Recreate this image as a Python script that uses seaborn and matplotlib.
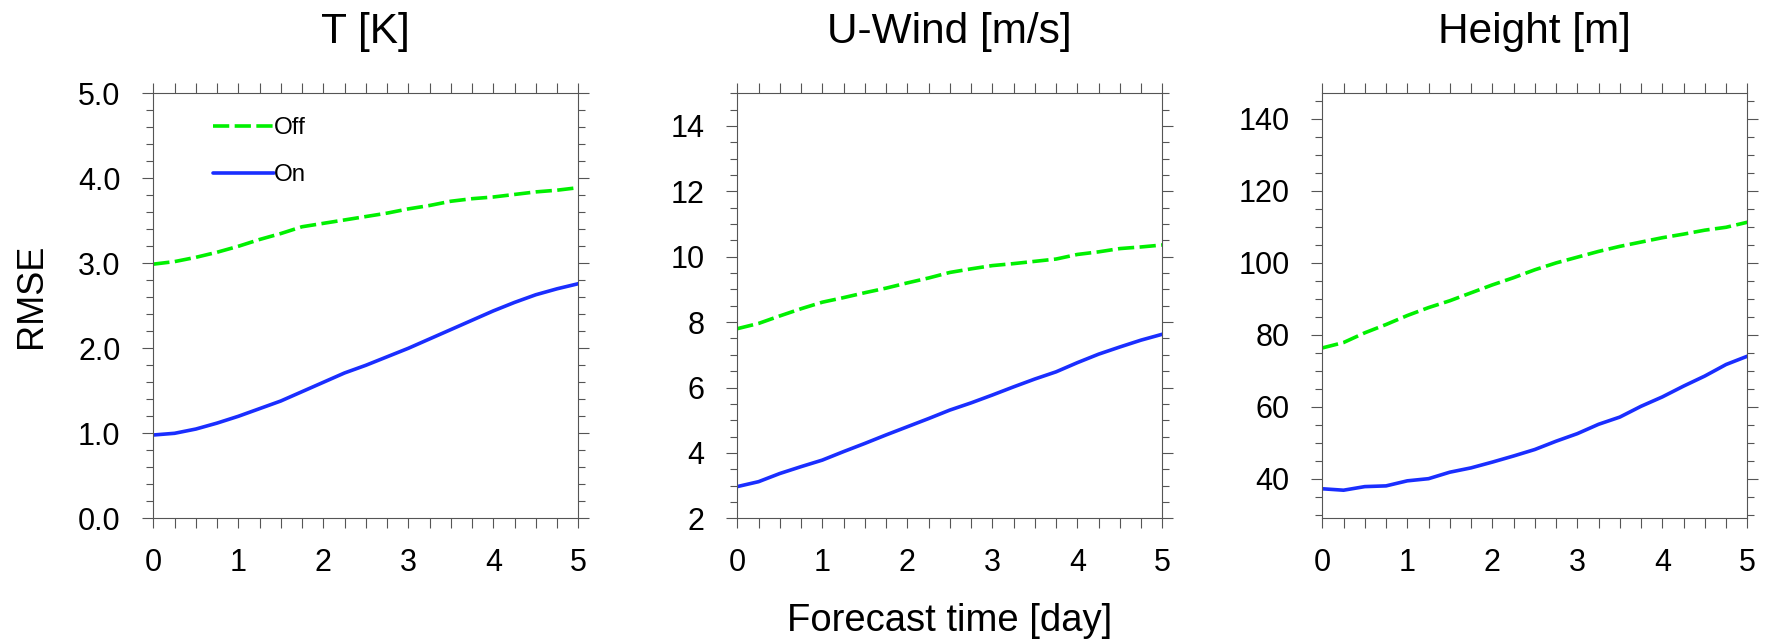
#RMSE of forecasts with and without the scheme
import numpy as np
import pandas as pd
import matplotlib
matplotlib.use('Agg')
import matplotlib.pyplot as plt
from matplotlib.ticker import MultipleLocator, FormatStrFormatter
import seaborn as sns

sns.set_style('ticks')
plt.rcParams['font.family'] = ['Liberation Sans', 'DejaVu Sans']
plt.rcParams['text.color'] = 'black'

# forecast lead time, every 6 hours
days = [0, 0.25, 0.5, 0.75, 1, 1.25, 1.5, 1.75, 2, 2.25, 2.5, 2.75,
        3, 3.25, 3.5, 3.75, 4, 4.25, 4.5, 4.75, 5]

t_off = [2.99, 3.02, 3.07, 3.13, 3.20, 3.28, 3.35, 3.43, 3.47, 3.51, 3.55,
         3.59, 3.64, 3.68, 3.73, 3.76, 3.78, 3.81, 3.84, 3.86, 3.89]
t_on = [0.98, 1.00, 1.05, 1.12, 1.20, 1.29, 1.38, 1.49, 1.60, 1.71, 1.80,
        1.90, 2.00, 2.11, 2.22, 2.33, 2.44, 2.54, 2.63, 2.70, 2.76]

u_off = [7.80, 7.96, 8.19, 8.41, 8.61, 8.75, 8.90, 9.04, 9.20, 9.35, 9.52,
         9.63, 9.73, 9.79, 9.86, 9.93, 10.07, 10.15, 10.25, 10.30, 10.36]
u_on = [2.97, 3.12, 3.37, 3.58, 3.78, 4.04, 4.29, 4.55, 4.80, 5.05, 5.31,
        5.53, 5.77, 6.02, 6.26, 6.48, 6.76, 7.02, 7.24, 7.45, 7.63]

z_off = [76.3, 77.8, 80.5, 82.8, 85.3, 87.5, 89.4, 91.6, 93.8, 95.8, 98.0,
         99.9, 101.5, 103.1, 104.5, 105.7, 106.9, 107.9, 109.0, 109.8, 111.2]
z_on = [37.2, 36.8, 37.8, 38.0, 39.4, 40.0, 41.8, 43.0, 44.6, 46.3, 48.1,
        50.4, 52.5, 55.1, 57.1, 60.1, 62.7, 65.7, 68.5, 71.7, 74.0]

titles = ['T [K]', 'U-Wind [m/s]', 'Height [m]']

frames = []
for title, off, on in zip(titles, [t_off, u_off, z_off], [t_on, u_on, z_on]):
    frames.append(pd.DataFrame({'day': days, 'rmse': off, 'exp': 'Off', 'var': title}))
    frames.append(pd.DataFrame({'day': days, 'rmse': on, 'exp': 'On', 'var': title}))
df = pd.concat(frames, ignore_index=True)

ylims = [(0, 5), (2, 15), (29, 147)]
ymajor = [1, 2, 20]
yminor = [0.2, 0.5, 5]
yfmt = ['%.1f', '%d', '%d']
lefts = [153.3, 737.3, 1322.3]

W, H = 1766, 640
fig = plt.figure(figsize=(W / 100, H / 100), dpi=100)
gray = '#555555'

for i, title in enumerate(titles):
    ax = fig.add_axes([lefts[i] / W, (H - 518.3) / H, 425 / W, 425 / H])
    sns.lineplot(data=df[df['var'] == title], x='day', y='rmse', hue='exp',
                 style='exp', hue_order=['Off', 'On'], style_order=['Off', 'On'],
                 palette={'Off': '#00f000', 'On': '#1a2eff'},
                 dashes={'Off': (4.5, 1.5), 'On': ''}, linewidth=2.6, ax=ax)
    ax.set_xlim(0, 5)
    ax.set_ylim(*ylims[i])
    ax.xaxis.set_major_locator(MultipleLocator(1))
    ax.xaxis.set_minor_locator(MultipleLocator(0.25))
    ax.yaxis.set_major_locator(MultipleLocator(ymajor[i]))
    ax.yaxis.set_minor_locator(MultipleLocator(yminor[i]))
    ax.yaxis.set_major_formatter(FormatStrFormatter(yfmt[i]))
    ax.tick_params(axis='both', which='both', direction='out', top=True, right=True,
                   color=gray, width=0.8, labelsize=22, labelcolor='black')
    ax.tick_params(axis='x', which='both', length=7.2, pad=14)
    ax.tick_params(axis='y', which='major', length=7.7, pad=16)
    ax.tick_params(axis='y', which='minor', length=4.8)
    for sp in ax.spines.values():
        sp.set_color(gray)
        sp.set_linewidth(0.8)
    ax.set_xlabel('')
    ax.set_ylabel('')
    ax.text(0.5, 1 + 50 / 425, title, transform=ax.transAxes, ha='center',
            va='baseline', fontsize=30.5)
    if i == 0:
        ax.legend(title=None, frameon=False, loc='center left',
                  bbox_to_anchor=(0.141, 0.8626), borderpad=0, borderaxespad=0,
                  handlelength=2.5, handletextpad=0, labelspacing=1.05, fontsize=17.4)
    else:
        ax.get_legend().remove()

fig.text(950 / W, 9.3 / H, 'Forecast time [day]', ha='center', va='baseline', fontsize=27.5)
fig.text(31 / W, (H - 295.8) / H, 'RMSE', rotation=90, ha='center', va='center', fontsize=26)

fig.savefig('out.png', dpi=100)
